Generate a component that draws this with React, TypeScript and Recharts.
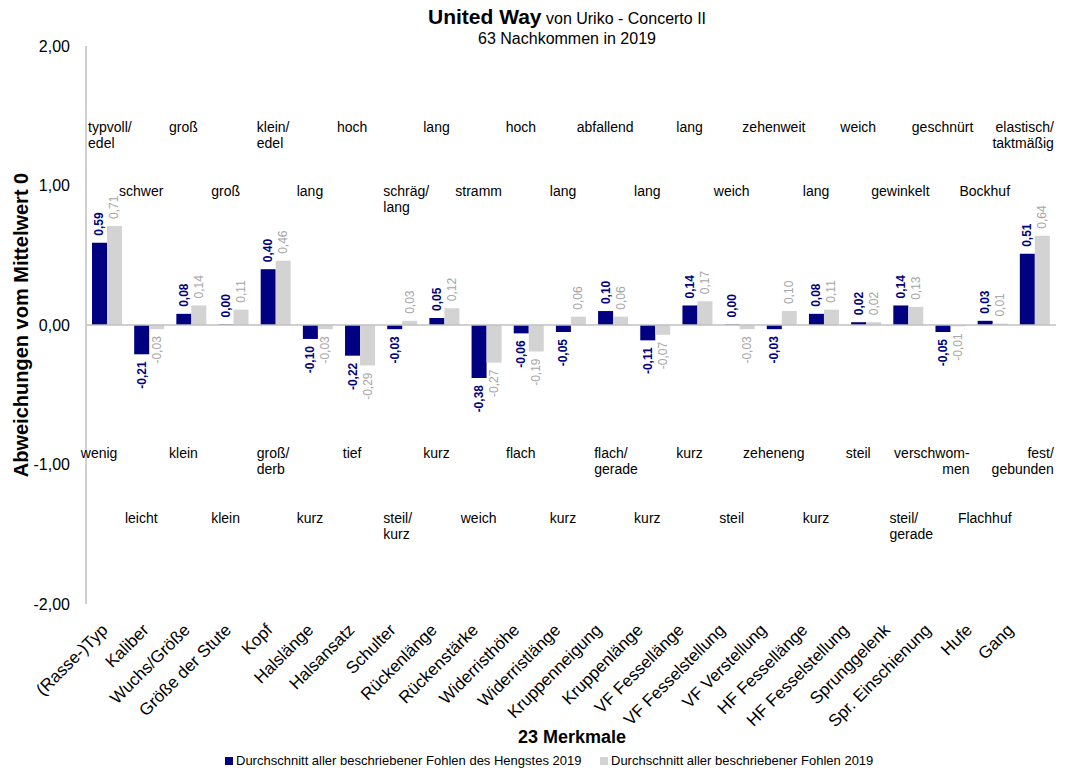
import React from 'react';
import { BarChart, Bar, XAxis, YAxis, ReferenceLine, ReferenceDot, LabelList } from 'recharts';

const merkmale = [
  '(Rasse-)Typ', 'Kaliber', 'Wuchs/Größe', 'Größe der Stute', 'Kopf', 'Halslänge',
  'Halsansatz', 'Schulter', 'Rückenlänge', 'Rückenstärke', 'Widerristhöhe', 'Widerristlänge',
  'Kruppenneigung', 'Kruppenlänge', 'VF Fessellänge', 'VF Fesselstellung', 'VF Verstellung',
  'HF Fessellänge', 'HF Fesselstellung', 'Sprunggelenk', 'Spr. Einschienung', 'Hufe', 'Gang',
];

// Durchschnitt der Fohlen des Hengstes
const hengst = [
  0.59, -0.21, 0.08, 0.0, 0.4, -0.1, -0.22, -0.03, 0.05, -0.38, -0.06, -0.05,
  0.1, -0.11, 0.14, 0.0, -0.03, 0.08, 0.02, 0.14, -0.05, 0.03, 0.51,
];

// Durchschnitt aller beschriebenen Fohlen
const alleFohlen = [
  0.71, -0.03, 0.14, 0.11, 0.46, -0.03, -0.29, 0.03, 0.12, -0.27, -0.19, 0.06,
  0.06, -0.07, 0.17, -0.03, 0.1, 0.11, 0.02, 0.13, -0.01, 0.01, 0.64,
];

// Ausprägung am positiven / negativen Ende der Skala
const plusPol = [
  'typvoll/\nedel', 'schwer', 'groß', 'groß', 'klein/\nedel', 'lang', 'hoch', 'schräg/\nlang',
  'lang', 'stramm', 'hoch', 'lang', 'abfallend', 'lang', 'lang', 'weich', 'zehenweit',
  'lang', 'weich', 'gewinkelt', 'geschnürt', 'Bockhuf', 'elastisch/\ntaktmäßig',
];
const minusPol = [
  'wenig', 'leicht', 'klein', 'klein', 'groß/\nderb', 'kurz', 'tief', 'steil/\nkurz',
  'kurz', 'weich', 'flach', 'kurz', 'flach/\ngerade', 'kurz', 'kurz', 'steil', 'zeheneng',
  'kurz', 'steil', 'steil/\ngerade', 'verschwom-\nmen', 'Flachhuf', 'fest/\ngebunden',
];

const yTicks = [-2, -1, 0, 1, 2];

const NAVY = '#000080';
const GREY = '#d3d3d3';
const GREY_TEXT = '#a6a6a6';
const AXIS = '#c0c0c0';
const FONT = '"Liberation Sans", Arial, sans-serif';

const data = merkmale.map((name, i) => ({ name, hengst: hengst[i], alle: alleFohlen[i] }));

const fmt = (v: number) => v.toFixed(2).replace('.', ',');

const valueLabel = (color: string, weight: number) => (props: any) => {
  const vb = props.viewBox && props.viewBox.width !== undefined ? props.viewBox : props;
  const x = Number(vb.x);
  const y = Number(vb.y);
  const w = Number(vb.width);
  const h = Number(vb.height) || 0;
  const v = Number(props.value);
  const cx = x + w / 2;
  const up = v >= 0;
  const ty = up ? Math.min(y, y + h) - 7 : Math.max(y, y + h) + 7;
  return (
    <text
      x={cx}
      y={ty}
      transform={`rotate(-90 ${cx} ${ty})`}
      textAnchor={up ? 'start' : 'end'}
      dominantBaseline="central"
      fill={color}
      fontSize={12}
      fontWeight={weight}
      fontFamily={FONT}
    >
      {fmt(v)}
    </text>
  );
};

const CategoryTick = (props: any) => {
  const { x, y, payload } = props;
  return (
    <g transform={`translate(${x + 2},${y - 3})`}>
      <text textAnchor="end" transform="rotate(-45)" fontSize={17} fontFamily={FONT} fill="#000">
        {payload.value}
      </text>
    </g>
  );
};

// Pol-Beschriftung: einzeilig zentriert, mehrzeilig als Textblock links bzw. rechts ausgerichtet
const poleLabel = (text: string, index: number) => (props: any) => {
  const vb = props.viewBox || {};
  const cx = Number(vb.x) + (Number(vb.width) || 0) / 2;
  const cy = Number(vb.y) + (Number(vb.height) || 0) / 2;
  const lines = text.split('\n');
  let anchor: 'start' | 'middle' | 'end' = 'middle';
  let tx = cx - 8;
  if (lines.length > 1) {
    if (index >= 20) {
      anchor = 'end';
      tx = cx + 19;
    } else {
      anchor = 'start';
      tx = cx - 19;
    }
  }
  return (
    <text x={tx} y={cy} textAnchor={anchor} fontSize={14} fontFamily={FONT} fill="#000">
      {lines.map((line, k) => (
        <tspan key={k} x={tx} dy={k === 0 ? 5 : 16}>
          {line}
        </tspan>
      ))}
    </text>
  );
};

const YTitle = () => (
  <text
    x={21}
    y={325}
    transform="rotate(-90 21 325)"
    textAnchor="middle"
    dominantBaseline="central"
    fontSize={20}
    fontWeight="bold"
    fontFamily={FONT}
    fill="#000"
  >
    Abweichungen vom Mittelwert 0
  </text>
);

const XTitle = () => (
  <text x={572} y={743} textAnchor="middle" fontSize={18} fontWeight="bold" fontFamily={FONT} fill="#000">
    23 Merkmale
  </text>
);

const legendItems = [
  { label: 'Durchschnitt aller beschriebener Fohlen des Hengstes 2019', color: NAVY, left: 225 },
  { label: 'Durchschnitt aller beschriebener Fohlen 2019', color: GREY, left: 600 },
];

export default function App() {
  return (
    <div style={{ position: 'absolute', left: 0, top: 0, width: 1069, height: 771, background: '#fff', fontFamily: FONT }}>
      <div style={{ position: 'absolute', left: 367, top: 5, width: 400, textAlign: 'center', color: '#000' }}>
        <div style={{ lineHeight: '23px' }}>
          <span style={{ fontSize: 21, fontWeight: 'bold' }}>United Way</span>
          <span style={{ fontSize: 16 }}> von Uriko - Concerto II</span>
        </div>
        <div style={{ fontSize: 16, lineHeight: '17px' }}>63 Nachkommen in 2019</div>
      </div>

      <BarChart
        width={1069}
        height={771}
        data={data}
        margin={{ top: 46, right: 13, left: 0, bottom: 0 }}
        barGap={0}
      >
        <XAxis xAxisId="bars" dataKey="name" hide />
        <XAxis
          xAxisId="labels"
          dataKey="name"
          height={167}
          padding={{ left: 0, right: 23 }}
          axisLine={false}
          tickLine={false}
          tickSize={0}
          tickMargin={0}
          interval={0}
          tick={<CategoryTick />}
          label={<XTitle />}
        />
        <YAxis
          width={86}
          domain={[-2, 2]}
          ticks={yTicks}
          allowDataOverflow
          axisLine={{ stroke: AXIS, strokeWidth: 1.5 }}
          tickLine={false}
          tickSize={0}
          tickMargin={16}
          tickFormatter={fmt}
          tick={{ fontSize: 16, fill: '#000', fontFamily: FONT }}
          label={<YTitle />}
        />
        <ReferenceLine xAxisId="bars" y={0} stroke={AXIS} strokeWidth={1.5} />
        <Bar xAxisId="bars" dataKey="hengst" fill={NAVY} barSize={15} minPointSize={0.5} isAnimationActive={false}>
          <LabelList dataKey="hengst" content={valueLabel(NAVY, 700)} />
        </Bar>
        <Bar xAxisId="bars" dataKey="alle" fill={GREY} barSize={15} isAnimationActive={false}>
          <LabelList dataKey="alle" content={valueLabel(GREY_TEXT, 400)} />
        </Bar>
        {merkmale.map((name, i) => (
          <ReferenceDot
            key={`plus-${name}`}
            xAxisId="bars"
            x={name}
            y={i % 2 === 0 ? 1.42 : 0.96}
            r={1}
            fill="none"
            stroke="none"
            label={poleLabel(plusPol[i], i)}
          />
        ))}
        {merkmale.map((name, i) => (
          <ReferenceDot
            key={`minus-${name}`}
            xAxisId="bars"
            x={name}
            y={i % 2 === 0 ? -0.92 : -1.38}
            r={1}
            fill="none"
            stroke="none"
            label={poleLabel(minusPol[i], i)}
          />
        ))}
      </BarChart>

      {legendItems.map((item) => (
        <div
          key={item.label}
          style={{ position: 'absolute', left: item.left, top: 753, display: 'flex', alignItems: 'center', fontSize: 13, color: '#000', whiteSpace: 'nowrap' }}
        >
          <span style={{ display: 'inline-block', width: 8, height: 8, background: item.color, marginRight: 3 }} />
          {item.label}
        </div>
      ))}
    </div>
  );
}
